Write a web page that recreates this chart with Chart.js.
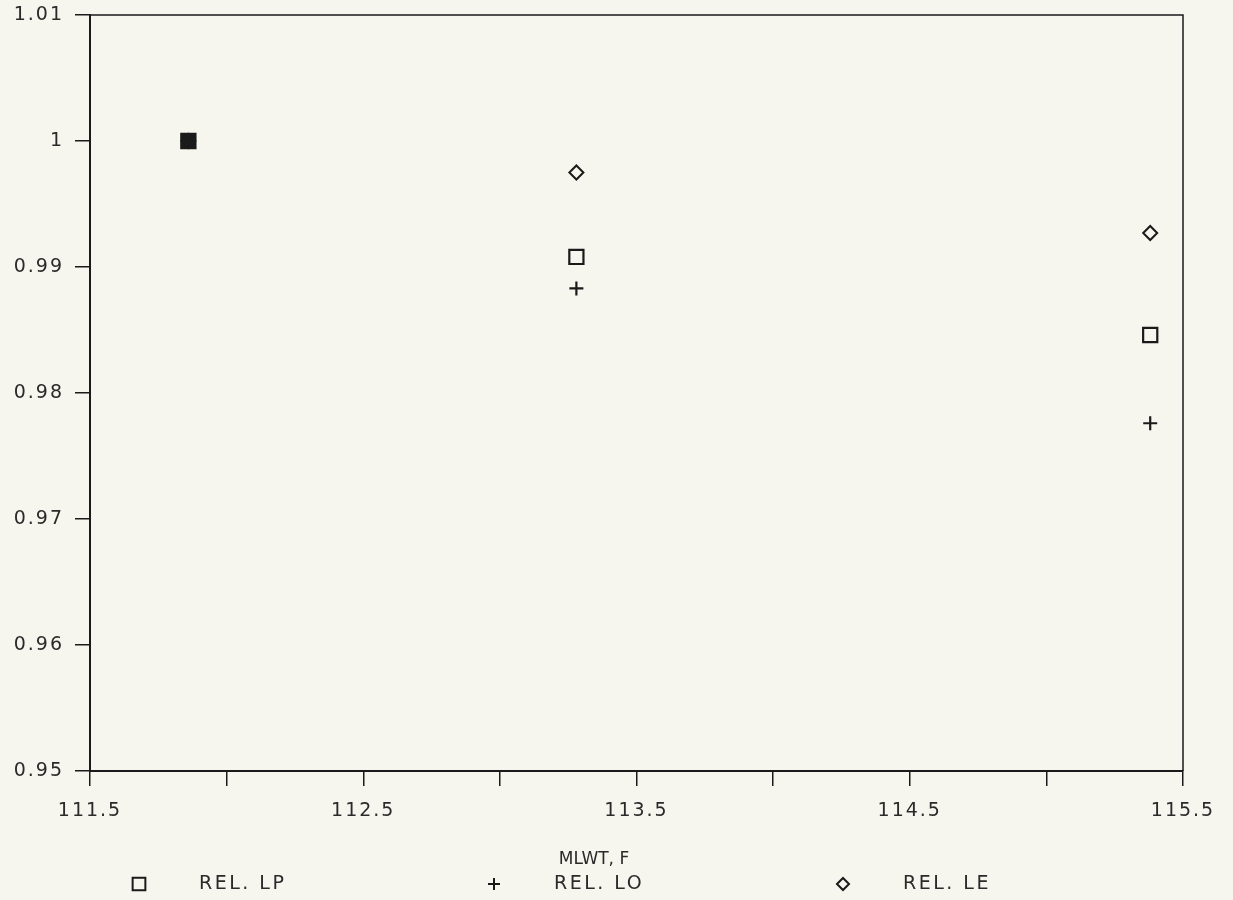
<!DOCTYPE html>
<html>
<head>
<meta charset="utf-8">
<script src="https://cdn.jsdelivr.net/npm/chart.js@4/dist/chart.umd.min.js"></script>
<style>
  html, body { margin: 0; padding: 0; background: #f7f6ee; }
  #wrap { width: 1233px; height: 900px; position: relative; }
</style>
</head>
<body>
<div id="wrap"><canvas id="chart"></canvas></div>
<script>
// Data
const mlwt = [111.86, 113.28, 115.38];
const relLP = [1.0, 0.9908, 0.9846];
const relLO = [1.0, 0.9883, 0.9776];
const relLE = [1.0, 0.9975, 0.9927];

const seriesNames = ['REL. LP', 'REL. LO', 'REL. LE'];
const xLabelTicks = [111.5, 112.5, 113.5, 114.5, 115.5];
const xTitle = 'MLWT, F';

const ink = '#1a1a1a';
const textColor = '#2a2a2a';
const font = "'DejaVu Sans', sans-serif";
const spacing = '2px'; // the plotter font is wide

function toPoints(xs, ys) {
    return xs.map((x, i) => ({ x: x, y: ys[i] }));
}

// wide lettering, plot frame, axis title and legend row
const framePlugin = {
    id: 'frame',
    beforeUpdate(chart) { chart.ctx.letterSpacing = spacing; },
    beforeDraw(chart) { chart.ctx.letterSpacing = spacing; },
    afterDraw(chart) {
        const { ctx, chartArea } = chart;
        ctx.save();
        ctx.strokeStyle = ink;
        ctx.lineWidth = 1.5;
        ctx.beginPath();
        ctx.moveTo(chartArea.left, chartArea.top);
        ctx.lineTo(chartArea.right, chartArea.top);
        ctx.lineTo(chartArea.right, chartArea.bottom);
        ctx.stroke();

        ctx.letterSpacing = '0px';
        ctx.font = '17px ' + font;
        ctx.fillStyle = textColor;
        ctx.textAlign = 'center';
        ctx.textBaseline = 'middle';
        ctx.fillText(xTitle, 594, 860);

        // legend entries
        const symbolX = [139, 494, 843];
        const legendY = 884;
        ctx.letterSpacing = '2.5px';
        ctx.font = '19px ' + font;
        ctx.textAlign = 'left';
        chart.data.datasets.forEach((ds, i) => {
            const style = {
                pointStyle: ds.pointStyle,
                radius: ds.pointStyle === 'rect' ? 9 : 6,
                rotation: 0,
                borderWidth: 2
            };
            ctx.strokeStyle = ink;
            ctx.lineWidth = 2;
            ctx.fillStyle = 'rgba(0,0,0,0)';
            Chart.helpers.drawPoint(ctx, style, symbolX[i], legendY);
            ctx.fillStyle = textColor;
            ctx.fillText(ds.label, symbolX[i] + 60, legendY);
        });
        ctx.restore();
    }
};

new Chart(document.getElementById('chart'), {
    type: 'scatter',
    data: {
        datasets: [
            {
                label: seriesNames[0],
                data: toPoints(mlwt, relLP),
                pointStyle: 'rect',
                pointRadius: 10,
                borderColor: ink,
                borderWidth: 2.2,
                backgroundColor: c => c.dataIndex === 0 ? ink : 'rgba(0,0,0,0)'
            },
            {
                label: seriesNames[1],
                data: toPoints(mlwt, relLO),
                pointStyle: 'cross',
                pointRadius: 7,
                borderColor: ink,
                borderWidth: 2.2,
                backgroundColor: 'rgba(0,0,0,0)'
            },
            {
                label: seriesNames[2],
                data: toPoints(mlwt, relLE),
                pointStyle: 'rectRot',
                pointRadius: 7,
                borderColor: ink,
                borderWidth: 2,
                backgroundColor: 'rgba(0,0,0,0)'
            }
        ]
    },
    options: {
        responsive: true,
        maintainAspectRatio: false,
        animation: false,
        layout: { padding: { top: 15, right: 50, bottom: 24, left: 0 } },
        plugins: {
            legend: { display: false },
            tooltip: { enabled: false }
        },
        scales: {
            x: {
                type: 'linear',
                min: 111.5,
                max: 115.5,
                afterFit: scale => { scale.height = 105; },
                ticks: {
                    stepSize: 0.5,
                    autoSkip: false,
                    maxRotation: 0,
                    padding: 14,
                    color: textColor,
                    font: { family: font, size: 19 },
                    callback: v => xLabelTicks.some(t => Math.abs(t - v) < 1e-6) ? v.toFixed(1) : ''
                },
                grid: {
                    drawOnChartArea: false,
                    tickLength: 15,
                    color: ink,
                    lineWidth: 1.5
                },
                border: { color: ink, width: 2 }
            },
            y: {
                min: 0.95,
                max: 1.01,
                afterFit: scale => {
                    scale.width = 90;
                    scale.paddingTop = 0;
                    scale.paddingBottom = 0;
                },
                ticks: {
                    stepSize: 0.01,
                    padding: 11,
                    color: textColor,
                    font: { family: font, size: 19 },
                    callback: v => String(+v.toFixed(2))
                },
                grid: {
                    drawOnChartArea: false,
                    tickLength: 15,
                    color: ink,
                    lineWidth: 1.5
                },
                border: { color: ink, width: 2 }
            }
        }
    },
    plugins: [framePlugin]
});
</script>
</body>
</html>
